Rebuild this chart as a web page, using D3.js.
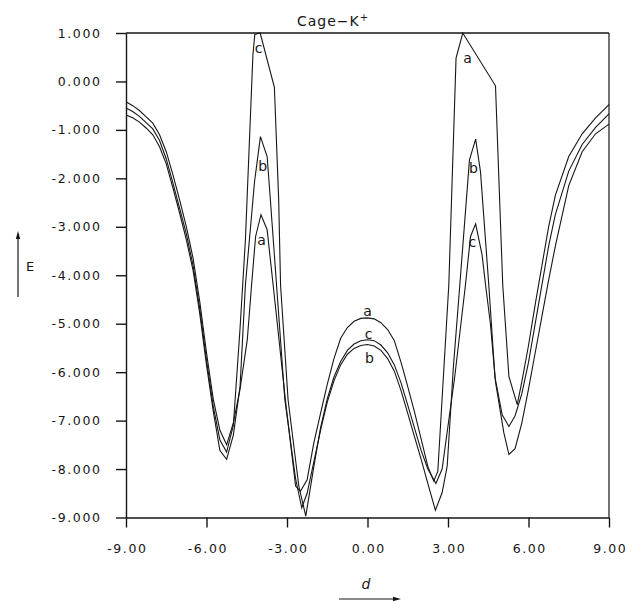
<!DOCTYPE html>
<html>
<head>
<meta charset="utf-8">
<script src="https://cdn.jsdelivr.net/npm/d3@7"></script>
<style>
body { margin: 0; background: #fff; }
text { fill: #161616; font-family: "DejaVu Sans", sans-serif; }
</style>
</head>
<body>
<div id="figure"></div>
<script>
// tick values
var xTicks = [-9, -6, -3, 0, 3, 6, 9];
var yTicks = [1, 0, -1, -2, -3, -4, -5, -6, -7, -8, -9];

// curves, [d, E]
var curveA = [[-9,-0.42],[-8.75,-0.5],[-8.5,-0.6],[-8.25,-0.73],[-8,-0.86],[-7.75,-1.1],[-7.5,-1.45],[-7.25,-1.93],[-7,-2.45],[-6.75,-3.0],[-6.5,-3.65],[-6.25,-4.55],[-6,-5.6],[-5.75,-6.55],[-5.5,-7.2],[-5.25,-7.5],[-5,-7.05],[-4.75,-6.35],[-4.48,-5.33],[-4.32,-4.2],[-4.17,-3.2],[-3.97,-2.75],[-3.74,-3.06],[-3.4,-4.8],[-3.06,-6.57],[-2.68,-8.35],[-2.5,-8.46],[-2.25,-8.22],[-2,-7.46],[-1.75,-6.85],[-1.5,-6.25],[-1.25,-5.72],[-1,-5.3],[-0.75,-5.08],[-0.5,-4.95],[-0.25,-4.89],[0,-4.88],[0.25,-4.9],[0.5,-4.98],[0.75,-5.12],[1,-5.35],[1.25,-5.8],[1.5,-6.3],[1.75,-6.82],[2,-7.38],[2.25,-7.95],[2.47,-8.25],[2.62,-8.05],[3.03,-4.2],[3.3,0.48],[3.55,1.0],[4.77,-0.09],[5.04,-4.2],[5.27,-6.09],[5.58,-6.67],[5.75,-6.2],[6,-5.45],[6.25,-4.6],[6.5,-3.8],[6.75,-3.0],[7,-2.35],[7.5,-1.55],[8,-1.08],[8.5,-0.75],[9,-0.48]];

var curveB = [[-9,-0.69],[-8.75,-0.75],[-8.5,-0.84],[-8.25,-0.96],[-8,-1.1],[-7.75,-1.35],[-7.5,-1.7],[-7.25,-2.2],[-7,-2.72],[-6.75,-3.27],[-6.5,-3.9],[-6.25,-4.8],[-6,-5.85],[-5.75,-6.8],[-5.5,-7.62],[-5.25,-7.8],[-5,-7.3],[-4.75,-6.3],[-4.55,-4.2],[-4.21,-2.07],[-3.99,-1.14],[-3.74,-1.55],[-3.62,-2.44],[-3.08,-6.57],[-2.68,-8.2],[-2.45,-8.8],[-2.25,-8.5],[-2,-7.85],[-1.75,-7.2],[-1.5,-6.62],[-1.25,-6.18],[-1,-5.85],[-0.75,-5.63],[-0.5,-5.51],[-0.25,-5.45],[0,-5.43],[0.25,-5.46],[0.5,-5.55],[0.75,-5.72],[1,-5.98],[1.25,-6.38],[1.5,-6.85],[1.75,-7.33],[2,-7.8],[2.25,-8.3],[2.53,-8.85],[2.78,-8.49],[2.97,-7.94],[3.2,-5.9],[3.44,-4.2],[3.8,-1.62],[4.03,-1.19],[4.21,-1.86],[4.52,-4.2],[4.75,-6.1],[5.02,-6.88],[5.27,-7.12],[5.5,-6.9],[5.75,-6.45],[6,-5.8],[6.25,-5.0],[6.5,-4.2],[6.75,-3.4],[7,-2.75],[7.5,-1.85],[8,-1.3],[8.5,-0.95],[9,-0.67]];

var curveC = [[-9,-0.55],[-8.75,-0.62],[-8.5,-0.72],[-8.25,-0.85],[-8,-0.98],[-7.75,-1.22],[-7.5,-1.6],[-7.25,-2.1],[-7,-2.62],[-6.75,-3.15],[-6.5,-3.8],[-6.25,-4.7],[-6,-5.75],[-5.75,-6.7],[-5.5,-7.4],[-5.25,-7.65],[-5,-7.1],[-4.75,-5.1],[-4.55,-3.27],[-4.27,0.55],[-4.2,0.97],[-4,1.0],[-3.47,-0.12],[-3.31,-2.44],[-3.24,-4.2],[-2.96,-6.57],[-2.56,-8.35],[-2.3,-8.97],[-2,-7.95],[-1.75,-7.15],[-1.5,-6.55],[-1.25,-6.1],[-1,-5.78],[-0.75,-5.55],[-0.5,-5.42],[-0.25,-5.35],[0,-5.33],[0.25,-5.35],[0.5,-5.44],[0.75,-5.6],[1,-5.85],[1.25,-6.22],[1.5,-6.68],[1.75,-7.15],[2,-7.62],[2.25,-8.0],[2.55,-8.3],[2.78,-8.0],[3.25,-6.1],[3.65,-4.2],[3.84,-3.2],[4.03,-2.94],[4.27,-3.58],[4.4,-4.2],[4.58,-5.0],[4.77,-6.2],[5.08,-7.25],[5.27,-7.7],[5.5,-7.58],[5.75,-7.05],[6,-6.35],[6.25,-5.6],[6.5,-4.85],[6.75,-4.1],[7,-3.4],[7.5,-2.15],[8,-1.45],[8.5,-1.08],[9,-0.88]];

// curve letters and where they sit
var labelNames = ["c", "b", "a", "a", "b", "c", "a", "c", "b"];
var labelD = [-4.06, -3.91, -3.95, 3.73, 3.95, 3.91, 0.0, 0.04, 0.07];
var labelE = [0.69, -1.74, -3.27, 0.48, -1.78, -3.31, -4.73, -5.21, -5.70];

var width = 634, height = 601;
var margin = {top: 33, right: 25, bottom: 83.5, left: 126};

var svg = d3.select("#figure").append("svg")
    .attr("width", width)
    .attr("height", height);

var x = d3.scaleLinear().domain([-9, 9]).range([margin.left, width - margin.right]);
var y = d3.scaleLinear().domain([-9, 1]).range([height - margin.bottom, margin.top]);

var ink = "#161616";

// left axis
var yAxis = svg.append("g")
    .attr("transform", "translate(" + margin.left + ",0)")
    .call(d3.axisLeft(y).tickValues(yTicks).tickFormat(function(d) { return d.toFixed(3); })
        .tickSize(10).tickSizeOuter(0).tickPadding(14.5));

// bottom axis
var xAxis = svg.append("g")
    .attr("transform", "translate(0," + y(-9) + ")")
    .call(d3.axisBottom(x).tickValues(xTicks).tickFormat(function(d) { return d.toFixed(2); })
        .tickSize(10).tickSizeOuter(0).tickPadding(17));

svg.selectAll(".domain, .tick line").attr("stroke", ink).attr("stroke-width", 1.4);
svg.selectAll(".tick text")
    .attr("fill", ink)
    .style("font-family", "'DejaVu Sans', sans-serif")
    .style("font-size", "12.5px")
    .style("letter-spacing", "1.6px");
// keep x labels centred despite the trailing letter spacing
xAxis.selectAll(".tick text").attr("dx", "0.8px");

// frame top and right
svg.append("line")
    .attr("x1", x(-9)).attr("x2", x(9)).attr("y1", y(1)).attr("y2", y(1))
    .attr("stroke", ink).attr("stroke-width", 1.4);
svg.append("line")
    .attr("x1", x(9)).attr("x2", x(9)).attr("y1", y(1)).attr("y2", y(-9))
    .attr("stroke", ink).attr("stroke-width", 1.2);

// curves
var line = d3.line()
    .x(function(p) { return x(p[0]); })
    .y(function(p) { return y(p[1]); });

svg.selectAll("path.curve")
    .data([curveA, curveB, curveC])
    .enter().append("path")
    .attr("class", "curve")
    .attr("d", line)
    .attr("fill", "none")
    .attr("stroke", ink)
    .attr("stroke-width", 1.1)
    .attr("stroke-linejoin", "miter");

// letters on curves
svg.selectAll("text.lab")
    .data(labelNames)
    .enter().append("text")
    .attr("class", "lab")
    .attr("x", function(d, i) { return x(labelD[i]); })
    .attr("y", function(d, i) { return y(labelE[i]); })
    .attr("text-anchor", "middle")
    .attr("dominant-baseline", "central")
    .style("font-size", "14px")
    .text(function(d) { return d; });

// title
var title = svg.append("text")
    .attr("x", 333)
    .attr("y", 26)
    .attr("text-anchor", "middle")
    .style("font-size", "14px")
    .style("letter-spacing", "1px")
    .text("Cage\u2212K");
title.append("tspan")
    .attr("dy", -5)
    .style("font-size", "10px")
    .text("+");

// E label with up arrow
svg.append("line")
    .attr("x1", 18).attr("x2", 18).attr("y1", 297).attr("y2", 236)
    .attr("stroke", ink).attr("stroke-width", 1.2);
svg.append("path")
    .attr("d", "M18,231 L15.8,239 L20.2,239 Z")
    .attr("fill", ink);
svg.append("text")
    .attr("x", 30)
    .attr("y", 266)
    .attr("text-anchor", "middle")
    .attr("dominant-baseline", "central")
    .style("font-size", "13px")
    .text("E");

// d label with right arrow
svg.append("text")
    .attr("x", 366)
    .attr("y", 584)
    .attr("text-anchor", "middle")
    .attr("dominant-baseline", "central")
    .style("font-size", "14px")
    .style("font-style", "italic")
    .text("d");
svg.append("line")
    .attr("x1", 339).attr("x2", 396).attr("y1", 599).attr("y2", 599)
    .attr("stroke", ink).attr("stroke-width", 1.2);
svg.append("path")
    .attr("d", "M401,599 L393,596.8 L393,601.2 Z")
    .attr("fill", ink);
</script>
</body>
</html>
